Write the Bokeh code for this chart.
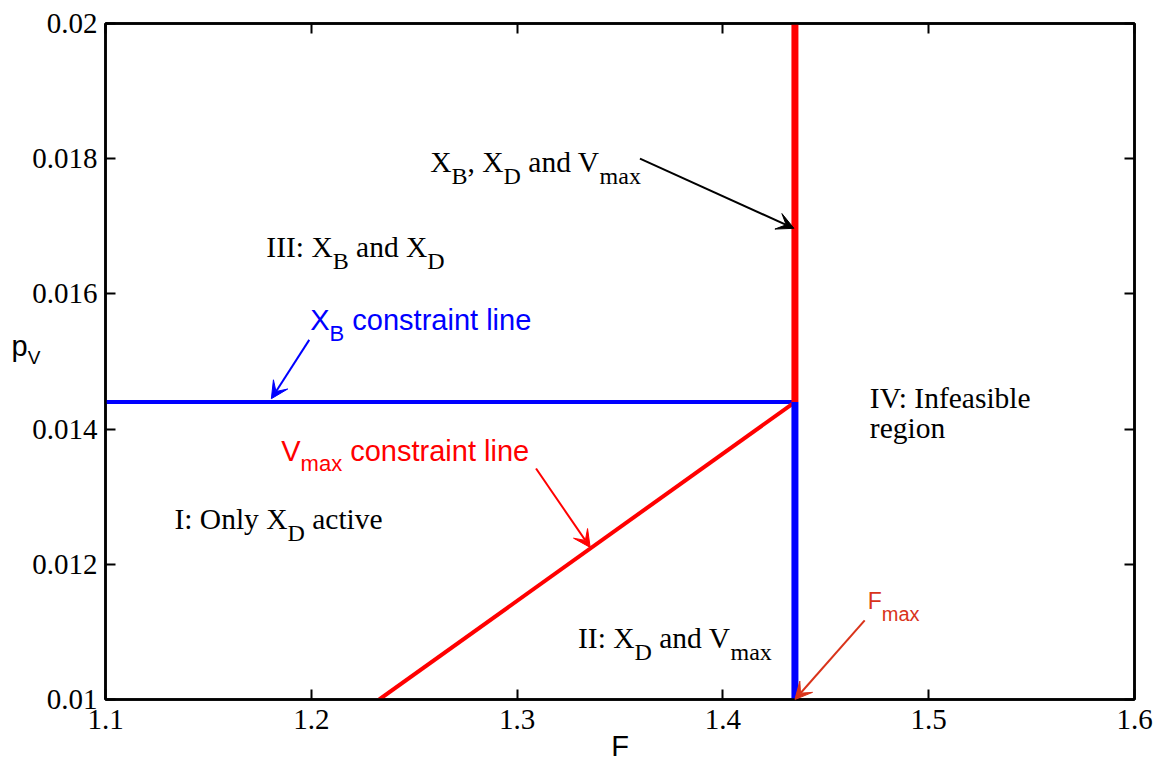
from bokeh.plotting import figure
from bokeh.models import (Label, Arrow, VeeHead, LinearAxis, FixedTicker,
                          CustomJSTickFormatter)
from bokeh.embed import file_html
from bokeh.resources import INLINE

# ---- data ---------------------------------------------------------------
F_ticks = [1.1, 1.2, 1.3, 1.4, 1.5, 1.6]
pV_ticks = [0.01, 0.012, 0.014, 0.016, 0.018, 0.02]

F_max = 1.435
pV_xb = 0.0144

# X_B constraint (blue, horizontal) up to F_max
xb_F = [1.1, F_max]
xb_pV = [pV_xb, pV_xb]

# F_max bound below the X_B line (blue)
fmax_F = [F_max, F_max]
fmax_pV = [0.01, pV_xb]

# V_max constraint: vertical part above X_B line and the sloped part (red)
vmax_vert_F = [F_max, F_max]
vmax_vert_pV = [pV_xb, 0.02]
vmax_F = [1.233, F_max]
vmax_pV = [0.01, pV_xb]

SERIF = "Liberation Serif"
SANS = "Liberation Sans"
RED = "#ff0000"
BLUE = "#0000ff"
FMAX_COLOR = "#d9331a"

# ---- figure ---------------------------------------------------------------
p = figure(width=1161, height=766, x_range=(1.1, 1.6), y_range=(0.01, 0.02),
           output_backend="svg", toolbar_location=None,
           min_border_left=104, min_border_right=27,
           min_border_top=23, min_border_bottom=67,
           background_fill_color="white", border_fill_color="white")
p.grid.visible = False
p.outline_line_color = "black"
p.outline_line_width = 2.5

fx = CustomJSTickFormatter(code="return tick.toFixed(1);")
fy = CustomJSTickFormatter(code="return String(parseFloat(tick.toFixed(3)));")
blank = CustomJSTickFormatter(code="return '';")


def style_axis(ax, standoff):
    ax.axis_line_width = 2.5
    ax.axis_line_color = "black"
    ax.major_tick_in = 10
    ax.major_tick_out = 0
    ax.major_tick_line_width = 2
    ax.minor_tick_line_color = None
    ax.major_label_standoff = standoff
    ax.major_label_text_font = SERIF
    ax.major_label_text_font_size = "29px"
    ax.major_label_text_color = "black"


p.xaxis.ticker = FixedTicker(ticks=F_ticks)
p.yaxis.ticker = FixedTicker(ticks=pV_ticks)
p.xaxis.formatter = fx
p.yaxis.formatter = fy
style_axis(p.xaxis[0], 10)
style_axis(p.yaxis[0], 8)

# x axis title
p.xaxis.axis_label = "F"
p.xaxis.axis_label_text_font = SANS
p.xaxis.axis_label_text_font_size = "29px"
p.xaxis.axis_label_text_font_style = "normal"
p.xaxis.axis_label_text_color = "black"
p.xaxis.axis_label_standoff = -2

# mirrored ticks on the top and right edges (box style)
top = LinearAxis(ticker=FixedTicker(ticks=F_ticks), formatter=blank)
right = LinearAxis(ticker=FixedTicker(ticks=pV_ticks), formatter=blank)
for ax in (top, right):
    style_axis(ax, 0)
    ax.major_label_text_font_size = "1px"
p.add_layout(top, "above")
p.add_layout(right, "right")

# ---- constraint lines ------------------------------------------------------
p.line(xb_F, xb_pV, line_color=BLUE, line_width=4)
p.line(vmax_F, vmax_pV, line_color=RED, line_width=4)
p.line(fmax_F, fmax_pV, line_color=BLUE, line_width=7)
p.line(vmax_vert_F, vmax_vert_pV, line_color=RED, line_width=7)

# ---- rich text helper (main text + lowered subscripts) --------------------
W_SERIF = {' ': 250, ',': 250, ':': 278, '.': 250, 'I': 333, 'V': 722,
           'X': 722, 'B': 667, 'D': 722, 'F': 556, 'O': 722, 'a': 444,
           'b': 500, 'c': 444, 'd': 500, 'e': 444, 'f': 333, 'g': 500,
           'i': 278, 'l': 278, 'm': 778, 'n': 500, 'o': 500, 'p': 500,
           'r': 333, 's': 389, 't': 278, 'v': 500, 'x': 500, 'y': 500}
W_SANS = {' ': 278, 'B': 667, 'X': 667, 'V': 667, 'F': 611, 'a': 556,
          'c': 500, 'e': 556, 'i': 222, 'l': 222, 'm': 833, 'n': 556,
          'o': 556, 'p': 556, 'r': 333, 's': 500, 't': 278, 'x': 500}


def text_width(txt, font, size):
    table = W_SERIF if font == SERIF else W_SANS
    return sum(table.get(ch, 500) for ch in txt) * size / 1000.0


def rich(x, y, parts, font, size, sub_size, drop, color, place=None):
    off = 0.0
    for txt, is_sub in parts:
        fs = sub_size if is_sub else size
        shown = txt.lstrip(" ")
        lead = text_width(txt[:len(txt) - len(shown)], font, fs)
        lbl = Label(x=x, y=y, x_offset=off + lead,
                    y_offset=-drop if is_sub else 0,
                    text=shown, text_font=font,
                    text_font_size=f"{fs}px", text_color=color,
                    text_baseline="alphabetic", text_align="left")
        if place is None:
            p.add_layout(lbl)
        else:
            p.add_layout(lbl, place)
        off += text_width(txt, font, fs)


TS, TSUB = 29.5, 24   # serif region labels
SS, SSUB = 29, 22     # sans captions

# region labels
rich(1.2578, 0.017944, [("X", 0), ("B", 1), (", X", 0), ("D", 1),
                        (" and V", 0), ("max", 1)], SERIF, TS, TSUB, 14, "black")
rich(1.17816, 0.016691, [("III: X", 0), ("B", 1), (" and X", 0), ("D", 1)],
     SERIF, TS, TSUB, 14, "black")
rich(1.1335, 0.012663, [("I: Only X", 0), ("D", 1), (" active", 0)],
     SERIF, TS, TSUB, 14, "black")
rich(1.3296, 0.010917, [("II: X", 0), ("D", 1), (" and V", 0), ("max", 1)],
     SERIF, TS, TSUB, 14, "black")
rich(1.4714, 0.014467, [("IV: Infeasible", 0)], SERIF, TS, TSUB, 14, "black")
rich(1.4714, 0.014009, [("region", 0)], SERIF, TS, TSUB, 14, "black")

# constraint line captions
rich(1.1995, 0.015607, [("X", 0), ("B", 1), (" constraint line", 0)],
     SANS, SS, SSUB, 13, BLUE)
rich(1.1854, 0.013683, [("V", 0), ("max", 1), (" constraint line", 0)],
     SANS, SS, SSUB, 13, RED)
rich(1.4704, 0.01145, [("F", 0), ("max", 1)], SANS, 23, 20, 13, FMAX_COLOR)

# y axis title, written horizontally at the left edge
rich(1.05437, 0.015222, [("p", 0), ("V", 1)], SANS, 29, 19, 11, "black",
     place="left")

# ---- arrows ---------------------------------------------------------------
def arrow(x0, y0, x1, y1, color):
    p.add_layout(Arrow(end=VeeHead(size=17, fill_color=color, line_color=color),
                       x_start=x0, y_start=y0, x_end=x1, y_end=y1,
                       line_color=color, line_width=2))


arrow(1.3597, 0.0180, 1.4345, 0.01697, "black")
arrow(1.199, 0.01532, 1.1806, 0.01445, BLUE)
arrow(1.3092, 0.013417, 1.3355, 0.01225, RED)
arrow(1.4689, 0.01117, 1.435, 0.0100, FMAX_COLOR)

open("out.html", "w").write(file_html(p, INLINE))
